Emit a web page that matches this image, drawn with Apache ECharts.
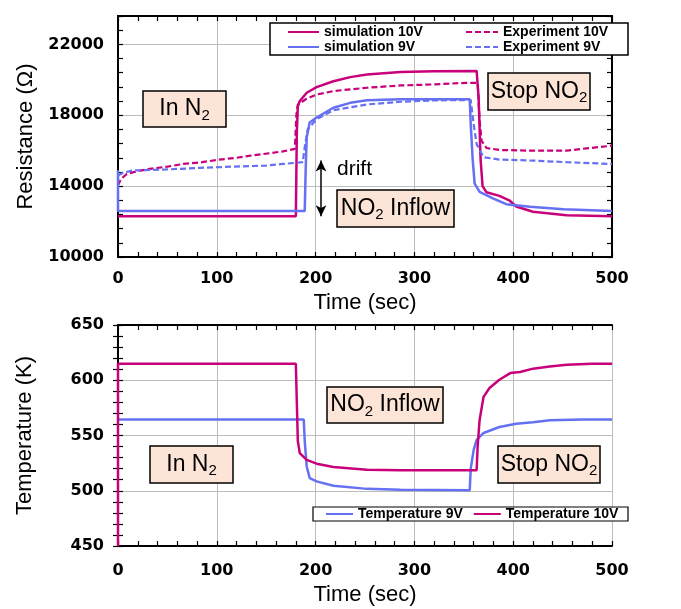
<!DOCTYPE html>
<html>
<head>
<meta charset="utf-8">
<script src="https://cdn.jsdelivr.net/npm/echarts@6/dist/echarts.min.js"></script>
<style>
  html, body { margin: 0; padding: 0; background: #fff; }
  #chart { width: 681px; height: 609px; }
</style>
</head>
<body>
<div id="chart"></div>
<script>
// resistance, top panel (time in sec, resistance in ohm)
const sim10T = [0, 180, 181, 182, 184, 191, 201, 218, 235, 252, 286, 320, 363, 365, 367, 369, 373, 386, 396, 403, 420, 454, 500];
const sim10R = [12300, 12300, 17000, 18500, 18800, 19270, 19590, 19920, 20150, 20300, 20440, 20480, 20500, 19000, 15500, 14000, 13650, 13450, 13200, 12850, 12550, 12360, 12300];

const sim9T = [0, 0, 189, 190, 191, 194, 201, 218, 235, 252, 286, 356, 357, 359, 361, 366, 380, 393, 417, 451, 500];
const sim9R = [14900, 12600, 12600, 15000, 16750, 17590, 17870, 18420, 18700, 18840, 18900, 18900, 17500, 15500, 14140, 13670, 13300, 12980, 12830, 12700, 12600];

const exp10T = [0, 3, 9, 20, 32, 50, 66, 85, 100, 120, 134, 150, 167, 179, 180.5, 182, 190, 201, 218, 235, 252, 286, 320, 353, 364, 366, 368, 373, 386, 420, 454, 474, 500];
const exp10R = [14040, 14400, 14690, 14850, 14970, 15100, 15250, 15350, 15480, 15600, 15720, 15830, 15960, 16100, 18000, 18600, 18900, 19170, 19360, 19460, 19550, 19680, 19740, 19830, 19830, 17700, 16560, 16150, 16040, 16000, 16000, 16130, 16280];

const exp9T = [0, 5, 15, 49, 83, 117, 150, 167, 187, 189, 192, 201, 218, 252, 286, 320, 357, 360, 363, 370, 386, 420, 454, 500];
const exp9R = [14600, 14750, 14880, 14940, 15030, 15100, 15160, 15250, 15350, 16200, 17210, 17770, 18280, 18610, 18760, 18840, 18860, 17490, 16370, 15630, 15500, 15440, 15350, 15250];

// temperature, bottom panel (K)
const temp10T = [0, 0, 180, 181, 182, 184, 191, 201, 218, 252, 286, 363, 364, 366, 370, 376, 386, 397, 407, 420, 437, 454, 480, 500];
const temp10K = [450, 615, 615, 580, 545, 534, 528, 524.5, 521.5, 519, 518.5, 518.5, 540, 564, 585, 593, 600.5, 606.5, 607.5, 610.5, 612.5, 614, 615, 615];

const temp9T = [0, 188, 189, 191, 194, 201, 218, 252, 286, 356, 357, 360, 363, 370, 386, 403, 420, 437, 470, 500];
const temp9K = [564.5, 564.5, 545, 522, 511.5, 508.5, 504.5, 501.7, 500.8, 500.5, 520, 537, 546, 552.3, 557.7, 560.7, 562, 563.8, 564.5, 564.5];

// drift arrow, in data coords
const driftT = 205.5;
const driftFrom = 15440;
const driftTo = 12300;

const MAG = '#C8007A';
const BLUE = '#6670F2';
const GRIDC = '#BDBDBD';
const LABEL_FONT = { fontFamily: 'DejaVu Sans', fontWeight: 'bold', fontSize: 16, color: '#000' };
const NAME_FONT = { fontFamily: 'Liberation Sans', fontSize: 22, color: '#000' };
const LEGEND_FONT = { fontFamily: 'Liberation Sans', fontWeight: 'bold', fontSize: 14, color: '#000' };

const zip = (xs, ys) => xs.map((x, i) => [x, ys[i]]);
const plain = (v) => String(v);

const chart = echarts.init(document.getElementById('chart'));

const line = (name, t, v, color, dashed, xi, yi, width) => ({
  name: name,
  type: 'line',
  data: zip(t, v),
  xAxisIndex: xi,
  yAxisIndex: yi,
  showSymbol: false,
  symbol: 'none',
  lineStyle: { color: color, width: width, type: dashed ? [6, 3] : 'solid' },
  itemStyle: { color: color },
  z: 2
});

const edge = { lineStyle: { color: '#000', width: 2 } };
const ticks = (len) => ({ show: true, inside: true, length: len, lineStyle: { color: '#000', width: 1.2 } });
const minor = { show: true, splitNumber: 5, length: 5, lineStyle: { color: '#000', width: 1.2 } };

// annotation box: rect + text with subscript
const box = (x, y, w, h, text) => [
  { type: 'rect', z: 3, shape: { x: x, y: y, width: w, height: h },
    style: { fill: '#FCE4D6', stroke: '#000', lineWidth: 1.5 } },
  { type: 'text', z: 4, x: x + w / 2, y: y + h / 2,
    style: {
      text: text, align: 'center', verticalAlign: 'middle',
      rich: {
        a: { fontFamily: 'Liberation Sans', fontSize: 23, fill: '#000', lineHeight: 28 },
        s: { fontFamily: 'Liberation Sans', fontSize: 15, fill: '#000', lineHeight: 12, verticalAlign: 'bottom' }
      }
    } }
];

const legendBase = {
  padding: 0, itemHeight: 14, textStyle: LEGEND_FONT, selectedMode: false,
  itemStyle: { opacity: 0 }
};

const option = {
  animation: false,
  backgroundColor: '#fff',
  grid: [
    { left: 118, top: 16, width: 494, height: 241 },
    { left: 118, top: 325, width: 494, height: 221 }
  ],
  xAxis: [
    { gridIndex: 0, type: 'value', min: 0, max: 500, interval: 100, position: 'bottom',
      axisLine: edge, axisTick: ticks(5), minorTick: minor,
      splitLine: { show: true, lineStyle: { color: GRIDC, width: 1 } },
      axisLabel: Object.assign({ margin: 14, formatter: plain }, LABEL_FONT),
      name: 'Time (sec)', nameLocation: 'middle', nameGap: 35, nameTextStyle: NAME_FONT },
    { gridIndex: 0, type: 'value', min: 0, max: 500, interval: 100, position: 'top',
      axisLine: edge, axisTick: ticks(5), minorTick: minor,
      splitLine: { show: false }, axisLabel: { show: false } },
    { gridIndex: 1, type: 'value', min: 0, max: 500, interval: 100, position: 'bottom',
      axisLine: edge, axisTick: ticks(5), minorTick: minor,
      splitLine: { show: true, lineStyle: { color: GRIDC, width: 1 } },
      axisLabel: Object.assign({ margin: 17, formatter: plain }, LABEL_FONT),
      name: 'Time (sec)', nameLocation: 'middle', nameGap: 38, nameTextStyle: NAME_FONT },
    { gridIndex: 1, type: 'value', min: 0, max: 500, interval: 100, position: 'top',
      axisLine: edge, axisTick: ticks(5), minorTick: minor,
      splitLine: { show: false }, axisLabel: { show: false } }
  ],
  yAxis: [
    { gridIndex: 0, type: 'value', min: 10000, max: 23600, interval: 4000, position: 'left',
      axisLine: edge, axisTick: { show: false },
      splitLine: { show: true, lineStyle: { color: GRIDC, width: 1 } },
      axisLabel: Object.assign({ margin: 14, showMaxLabel: false, formatter: plain }, LABEL_FONT),
      name: 'Resistance (Ω)', nameLocation: 'middle', nameGap: 80, nameTextStyle: NAME_FONT },
    { gridIndex: 0, type: 'value', min: 10000, max: 23600, interval: 800, position: 'left',
      axisLine: edge, axisTick: ticks(5), splitLine: { show: false }, axisLabel: { show: false } },
    { gridIndex: 0, type: 'value', min: 10000, max: 23600, interval: 800, position: 'right',
      axisLine: edge, axisTick: ticks(5), splitLine: { show: false }, axisLabel: { show: false } },
    { gridIndex: 1, type: 'value', min: 450, max: 650, interval: 50, position: 'left',
      axisLine: edge, axisTick: ticks(5), minorTick: minor,
      splitLine: { show: true, lineStyle: { color: GRIDC, width: 1 } },
      axisLabel: Object.assign({ margin: 14, formatter: plain }, LABEL_FONT),
      name: 'Temperature (K)', nameLocation: 'middle', nameGap: 82, nameTextStyle: NAME_FONT },
    { gridIndex: 1, type: 'value', min: 450, max: 650, interval: 50, position: 'right',
      axisLine: edge, axisTick: ticks(5), minorTick: minor,
      splitLine: { show: false }, axisLabel: { show: false } }
  ],
  legend: [
    Object.assign({ data: ['simulation 10V', 'simulation 9V'], orient: 'vertical', left: 287, top: 25,
      itemGap: 1, itemWidth: 31 }, legendBase),
    Object.assign({ data: ['Experiment 10V', 'Experiment 9V'], orient: 'vertical', left: 465, top: 25,
      itemGap: 1, itemWidth: 32 }, legendBase),
    Object.assign({ data: ['Temperature 9V', 'Temperature 10V'], orient: 'horizontal', left: 325, top: 507,
      itemGap: 10, itemWidth: 27 }, legendBase)
  ],
  graphic: [
    { type: 'rect', z: 3, shape: { x: 270, y: 23, width: 358, height: 32 },
      style: { fill: '#fff', stroke: '#000', lineWidth: 1.5 } },
    { type: 'rect', z: 3, shape: { x: 313, y: 507, width: 315, height: 14 },
      style: { fill: '#fff', stroke: '#000', lineWidth: 1.2 } }
  ].concat(
    box(143, 91, 83, 36, '{a|In N}{s|2}'),
    box(488, 73, 102, 37, '{a|Stop NO}{s|2}'),
    box(337, 190, 117, 37, '{a|NO}{s|2}{a| Inflow}'),
    box(327, 387, 116, 36, '{a|NO}{s|2}{a| Inflow}'),
    box(150, 446, 83, 37, '{a|In N}{s|2}'),
    box(498, 446, 102, 37, '{a|Stop NO}{s|2}'),
    [{ type: 'text', z: 4, x: 337, y: 169,
       style: { text: 'drift', fontFamily: 'Liberation Sans', fontSize: 21, fill: '#000', verticalAlign: 'middle' } }]
  ),
  series: [
    line('simulation 10V', sim10T, sim10R, MAG, false, 0, 0, 2.5),
    line('Experiment 10V', exp10T, exp10R, MAG, true, 0, 0, 2.2),
    line('simulation 9V', sim9T, sim9R, BLUE, false, 0, 0, 2.5),
    Object.assign(line('Experiment 9V', exp9T, exp9R, BLUE, true, 0, 0, 2.2), {
      markLine: {
        silent: true, symbol: ['arrow', 'arrow'], symbolSize: [8, 11],
        label: { show: false },
        lineStyle: { color: '#000', width: 1.5, type: 'solid' },
        data: [[{ coord: [driftT, driftFrom] }, { coord: [driftT, driftTo] }]]
      }
    }),
    line('Temperature 9V', temp9T, temp9K, BLUE, false, 2, 3, 2.5),
    line('Temperature 10V', temp10T, temp10K, MAG, false, 2, 3, 2.5)
  ]
};

chart.setOption(option);
window.addEventListener('resize', () => chart.resize());
</script>
</body>
</html>
